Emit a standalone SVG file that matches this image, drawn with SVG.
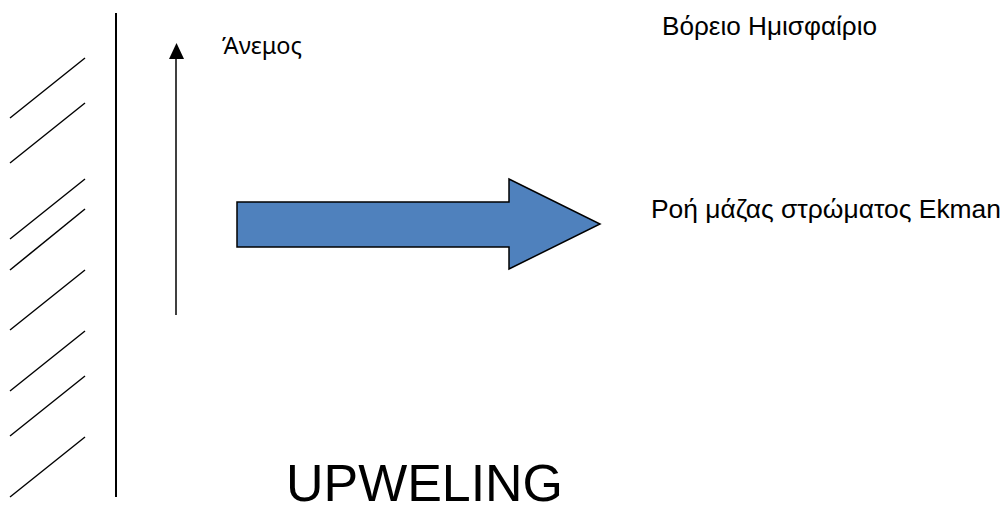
<svg xmlns="http://www.w3.org/2000/svg" width="1005" height="512" viewBox="0 0 1005 512">
<defs>
<style>
.hatch{stroke:#000;stroke-width:1.5;fill:none}
.wall{stroke:#000;stroke-width:2;fill:none}
.lbl{font-family:"Liberation Sans",Arial,sans-serif;fill:#000}
.lbl2{font-family:"Noto Sans","Open Sans",sans-serif;fill:#000}
</style>
</defs>
<rect width="1005" height="512" fill="#fff"/>
<g id="wall">
<line class="wall" x1="116" y1="13" x2="116" y2="497"/>
<line class="hatch" x1="10" y1="118" x2="85" y2="58"/>
<line class="hatch" x1="10" y1="163" x2="85" y2="103"/>
<line class="hatch" x1="10" y1="239" x2="85" y2="179"/>
<line class="hatch" x1="10" y1="270" x2="85" y2="209"/>
<line class="hatch" x1="10" y1="330" x2="85" y2="270"/>
<line class="hatch" x1="10" y1="391" x2="85" y2="331"/>
<line class="hatch" x1="10" y1="436" x2="85" y2="376"/>
<line class="hatch" x1="10" y1="497" x2="85" y2="437"/>
</g>
<g id="connectors">
<line id="wind" x1="176" y1="315" x2="176" y2="59" stroke="#000" stroke-width="1.5"/>
<path d="M169,59 L176.5,43 L184,59 Z" fill="#000"/>
</g>
<g id="ekman-arrow">
<path d="M237,202 L509,202 L509,179 L600,224 L509,269 L509,247 L237,247 Z" fill="#4f81bd" stroke="#000" stroke-width="1.5"/>
</g>
<g id="label-wind">
<text class="lbl2" x="222" y="54" font-size="24" textLength="80" lengthAdjust="spacingAndGlyphs">Άνεμος</text>
</g>
<g id="label-hemisphere">
<text class="lbl" x="662" y="35" font-size="26" textLength="215" lengthAdjust="spacingAndGlyphs">Βόρειο Ημισφαίριο</text>
</g>
<g id="label-ekman">
<text class="lbl" x="651" y="218" font-size="26.5" textLength="350" lengthAdjust="spacingAndGlyphs">Ροή μάζας στρώματος Ekman</text>
</g>
<g id="label-upweling">
<text class="lbl" x="286" y="501" font-size="52" textLength="277" lengthAdjust="spacingAndGlyphs">UPWELING</text>
</g>
</svg>
